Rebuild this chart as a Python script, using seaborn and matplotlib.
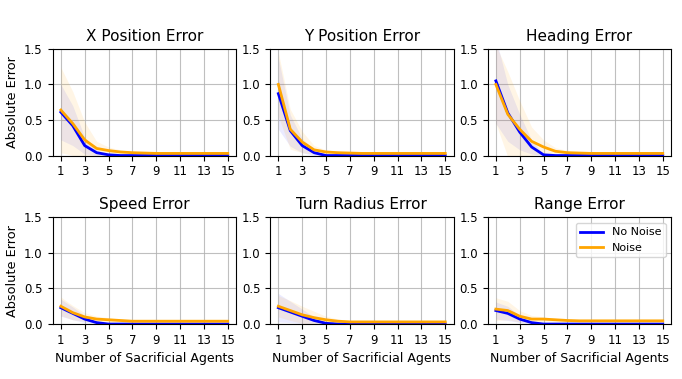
import numpy as np
import pandas as pd
import matplotlib.pyplot as plt
import seaborn as sns

agents = list(range(1, 16))
titles = ['X Position Error', 'Y Position Error', 'Heading Error',
          'Speed Error', 'Turn Radius Error', 'Range Error']

# mean curves, no noise / noise
no_noise = [
    [0.61, 0.42, 0.14, 0.04, 0.01, 0.0, 0.0, 0.0, 0.0, 0.0, 0.0, 0.0, 0.0, 0.0, 0.0],
    [0.87, 0.35, 0.14, 0.04, 0.0, 0.0, 0.0, 0.0, 0.0, 0.0, 0.0, 0.0, 0.0, 0.0, 0.0],
    [1.05, 0.60, 0.33, 0.12, 0.01, 0.0, 0.0, 0.0, 0.0, 0.0, 0.0, 0.0, 0.0, 0.0, 0.0],
    [0.23, 0.15, 0.07, 0.02, 0.0, 0.0, 0.0, 0.0, 0.0, 0.0, 0.0, 0.0, 0.0, 0.0, 0.0],
    [0.23, 0.17, 0.11, 0.05, 0.01, 0.0, 0.0, 0.0, 0.0, 0.0, 0.0, 0.0, 0.0, 0.0, 0.0],
    [0.19, 0.15, 0.07, 0.02, 0.0, 0.0, 0.0, 0.0, 0.0, 0.0, 0.0, 0.0, 0.0, 0.0, 0.0],
]
noise = [
    [0.64, 0.45, 0.22, 0.10, 0.07, 0.05, 0.04, 0.035, 0.03, 0.03, 0.03, 0.03, 0.03, 0.03, 0.03],
    [1.00, 0.37, 0.19, 0.08, 0.05, 0.04, 0.035, 0.03, 0.03, 0.03, 0.03, 0.03, 0.03, 0.03, 0.03],
    [1.00, 0.58, 0.37, 0.20, 0.12, 0.06, 0.04, 0.035, 0.03, 0.03, 0.03, 0.03, 0.03, 0.03, 0.03],
    [0.25, 0.16, 0.10, 0.07, 0.06, 0.05, 0.04, 0.04, 0.04, 0.04, 0.04, 0.04, 0.04, 0.04, 0.04],
    [0.25, 0.19, 0.13, 0.09, 0.06, 0.04, 0.03, 0.03, 0.03, 0.03, 0.03, 0.03, 0.03, 0.03, 0.03],
    [0.21, 0.19, 0.11, 0.07, 0.07, 0.06, 0.05, 0.045, 0.045, 0.045, 0.045, 0.045, 0.045, 0.045, 0.045],
]
# spread of the bands
sd_no_noise = [
    [0.39, 0.28, 0.12, 0.04, 0.01, 0.0, 0.0, 0.0, 0.0, 0.0, 0.0, 0.0, 0.0, 0.0, 0.0],
    [0.50, 0.22, 0.10, 0.04, 0.0, 0.0, 0.0, 0.0, 0.0, 0.0, 0.0, 0.0, 0.0, 0.0, 0.0],
    [0.60, 0.40, 0.25, 0.10, 0.01, 0.0, 0.0, 0.0, 0.0, 0.0, 0.0, 0.0, 0.0, 0.0, 0.0],
    [0.12, 0.09, 0.05, 0.02, 0.0, 0.0, 0.0, 0.0, 0.0, 0.0, 0.0, 0.0, 0.0, 0.0, 0.0],
    [0.20, 0.15, 0.10, 0.05, 0.01, 0.0, 0.0, 0.0, 0.0, 0.0, 0.0, 0.0, 0.0, 0.0, 0.0],
    [0.12, 0.10, 0.05, 0.02, 0.0, 0.0, 0.0, 0.0, 0.0, 0.0, 0.0, 0.0, 0.0, 0.0, 0.0],
]
sd_noise = [
    [0.60, 0.45, 0.25, 0.10, 0.05, 0.03, 0.02, 0.01, 0.01, 0.01, 0.01, 0.01, 0.01, 0.01, 0.01],
    [0.45, 0.28, 0.15, 0.06, 0.03, 0.02, 0.01, 0.01, 0.01, 0.01, 0.01, 0.01, 0.01, 0.01, 0.01],
    [0.55, 0.60, 0.40, 0.20, 0.10, 0.05, 0.03, 0.02, 0.01, 0.01, 0.01, 0.01, 0.01, 0.01, 0.01],
    [0.13, 0.10, 0.06, 0.04, 0.03, 0.02, 0.01, 0.01, 0.01, 0.01, 0.01, 0.01, 0.01, 0.01, 0.01],
    [0.15, 0.14, 0.12, 0.09, 0.05, 0.03, 0.02, 0.01, 0.01, 0.01, 0.01, 0.01, 0.01, 0.01, 0.01],
    [0.16, 0.13, 0.08, 0.05, 0.03, 0.02, 0.01, 0.01, 0.01, 0.01, 0.01, 0.01, 0.01, 0.01, 0.01],
]

fig, axes = plt.subplots(2, 3, figsize=(6.82, 3.79), dpi=100)
fig.subplots_adjust(left=0.077, right=0.984, top=0.871, bottom=0.145,
                    wspace=0.185, hspace=0.58)

x = np.array(agents)
for i, ax in enumerate(axes.flat):
    df = pd.DataFrame({'agents': agents * 2,
                       'err': no_noise[i] + noise[i],
                       'cond': ['No Noise'] * 15 + ['Noise'] * 15})
    m0, s0 = np.array(no_noise[i]), np.array(sd_no_noise[i])
    m1, s1 = np.array(noise[i]), np.array(sd_noise[i])
    ax.fill_between(x, m0 - s0, m0 + s0, color='blue', alpha=0.08, lw=0)
    ax.fill_between(x, m1 - s1, m1 + s1, color='orange', alpha=0.1, lw=0)
    sns.lineplot(data=df, x='agents', y='err', hue='cond',
                 palette={'No Noise': 'blue', 'Noise': 'orange'},
                 linewidth=2, ax=ax, legend=(i == 5))
    ax.set_ylim(0, 1.5)
    ax.set_xlim(0.3, 15.7)
    ax.set_xticks(range(1, 16, 2))
    ax.set_yticks([0, 0.5, 1.0, 1.5])
    ax.grid(True, color='#b0b0b0', alpha=0.8)
    ax.set_axisbelow(True)
    ax.set_title(titles[i], fontsize=11)
    ax.set_xlabel('Number of Sacrificial Agents' if i >= 3 else '', fontsize=9)
    ax.set_ylabel('Absolute Error' if i % 3 == 0 else '', fontsize=9.3)
    ax.tick_params(labelsize=8.5)

sns.move_legend(axes[1, 2], 'upper right', title=None, fontsize=8)

fig.savefig('out.png', dpi=100)
